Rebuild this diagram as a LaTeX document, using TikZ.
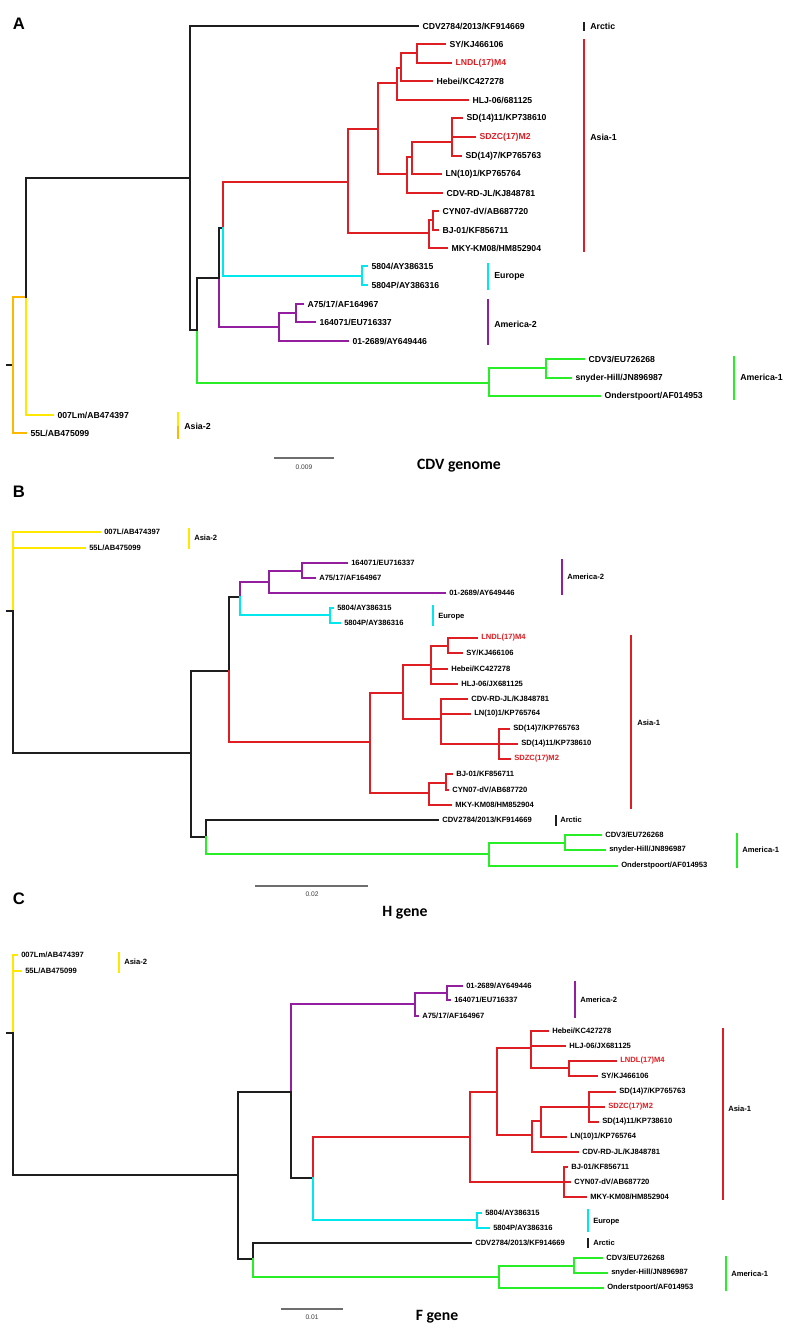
\documentclass[tikz,border=0pt]{standalone}
\usepackage{fontspec}
\setmainfont{Liberation Sans}
\newfontfamily\capfont{Carlito}
\definecolor{cred}{RGB}{222,30,35}
\definecolor{ccyan}{RGB}{0,232,238}
\definecolor{cpurp}{RGB}{148,30,160}
\definecolor{cgreen}{RGB}{40,238,40}
\definecolor{cyel}{RGB}{255,232,0}
\definecolor{corange}{RGB}{255,184,0}
\definecolor{cblack}{RGB}{30,30,30}
\definecolor{cgray}{RGB}{110,110,110}
\definecolor{cdgray}{RGB}{60,60,60}
\tikzset{
 lfA/.style={anchor=west,inner xsep=2.7pt,inner ysep=0pt,font=\bfseries\fontsize{6.5}{7}\selectfont,text=black},
 lfB/.style={anchor=west,inner xsep=2.7pt,inner ysep=0pt,font=\bfseries\fontsize{5.7}{6}\selectfont,text=black},
 grpA/.style={anchor=west,inner xsep=3pt,inner ysep=0pt,font=\bfseries\fontsize{6.6}{7}\selectfont},
 grpB/.style={anchor=west,inner xsep=3pt,inner ysep=0pt,font=\bfseries\fontsize{5.7}{6}\selectfont},
 panel/.style={font=\bfseries\fontsize{12.5}{13}\selectfont},
 capt/.style={font=\capfont\bfseries\fontsize{11.8}{12}\selectfont},
 sclab/.style={font=\fontsize{5}{6}\selectfont,text=cdgray},
 sbar/.style={draw=cgray,line width=1pt},
 wA/.style={line width=1.4pt,line cap=rect,line join=miter},
 wB/.style={line width=1.0pt,line cap=rect,line join=miter},
}
\newcommand\tbr[3]{\draw[#1] (#2) |- (#3);}
\begin{document}
\begin{tikzpicture}[x=0.75pt,y=-0.75pt]
\useasboundingbox (0,0) rectangle (801,1339);
\fill[white] (0,0) rectangle (801,1339);

%%%%%%%%%%%%%%%% PANEL A
\node[panel] (lA) at (19,24) {A};
\begin{scope}[wA]
\coordinate (A0t) at (7,365);
\coordinate (A0) at (13,365);
\coordinate (A1) at (26,297);
\coordinate (A2) at (190,178);
\coordinate (A3) at (197,330);
\coordinate (A4) at (219,278);
\coordinate (A5) at (223,228);
\coordinate (AR0) at (348,182);
\coordinate (AR1) at (378,129);
\coordinate (AR2) at (397,83);
\coordinate (AR3) at (401,68);
\coordinate (AR3b) at (417,53);
\coordinate (AR4) at (407,174);
\coordinate (AR5) at (412,157);
\coordinate (AR5b) at (452,142);
\coordinate (AR6) at (429,233);
\coordinate (AR7) at (433,220);
\coordinate (AE1) at (362,276);
\coordinate (AP1) at (279,327);
\coordinate (AP2) at (296,313);
\coordinate (AG1) at (489,383);
\coordinate (AG2) at (546,368);

\node[lfA] (aArc) at (418,26) {CDV2784/2013/KF914669};
\node[lfA] (aSY) at (445,44) {SY/KJ466106};
\node[lfA,text=cred] (aLN) at (451,63) {LNDL(17)M4};
\node[lfA] (aHeb) at (432,81) {Hebei/KC427278};
\node[lfA] (aHLJ) at (468,100) {HLJ-06/681125};
\node[lfA] (aSD11) at (462,118) {SD(14)11/KP738610};
\node[lfA,text=cred] (aSDZC) at (475,137) {SDZC(17)M2};
\node[lfA] (aSD7) at (461,156) {SD(14)7/KP765763};
\node[lfA] (aLN10) at (441,174) {LN(10)1/KP765764};
\node[lfA] (aRD) at (442,193) {CDV-RD-JL/KJ848781};
\node[lfA] (aCYN) at (438,211) {CYN07-dV/AB687720};
\node[lfA] (aBJ) at (438,230) {BJ-01/KF856711};
\node[lfA] (aMKY) at (447,248) {MKY-KM08/HM852904};
\node[lfA] (a5804) at (367,266) {5804/AY386315};
\node[lfA] (a5804P) at (367,285) {5804P/AY386316};
\node[lfA] (aA75) at (303,304) {A75/17/AF164967};
\node[lfA] (a1640) at (315,322) {164071/EU716337};
\node[lfA] (a0126) at (348,341) {01-2689/AY649446};
\node[lfA] (aCDV3) at (584,359) {CDV3/EU726268};
\node[lfA] (aSny) at (571,378) {snyder-Hill/JN896987};
\node[lfA] (aOnd) at (600,396) {Onderstpoort/AF014953};
\node[lfA] (a007) at (53,415) {007Lm/AB474397};
\node[lfA] (a55L) at (26,433) {55L/AB475099};

\draw[cblack] (A0t) -- (A0);
\tbr{corange}{A0}{A1}
\tbr{corange}{A0}{a55L.west}
\tbr{cyel}{A1}{a007.west}
\tbr{cblack}{A1}{A2}
\tbr{cblack}{A2}{aArc.west}
\tbr{cblack}{A2}{A3}
\tbr{cgreen}{A3}{AG1}
\tbr{cblack}{A3}{A4}
\tbr{cpurp}{A4}{AP1}
\tbr{cblack}{A4}{A5}
\tbr{cred}{A5}{AR0}
\tbr{ccyan}{A5}{AE1}
\tbr{cred}{AR0}{AR1}
\tbr{cred}{AR0}{AR6}
\tbr{cred}{AR1}{AR2}
\tbr{cred}{AR1}{AR4}
\tbr{cred}{AR2}{AR3}
\tbr{cred}{AR2}{aHLJ.west}
\tbr{cred}{AR3}{AR3b}
\tbr{cred}{AR3}{aHeb.west}
\tbr{cred}{AR3b}{aSY.west}
\tbr{cred}{AR3b}{aLN.west}
\tbr{cred}{AR4}{AR5}
\tbr{cred}{AR4}{aRD.west}
\tbr{cred}{AR5}{AR5b}
\tbr{cred}{AR5}{aLN10.west}
\tbr{cred}{AR5b}{aSD11.west}
\tbr{cred}{AR5b}{aSDZC.west}
\tbr{cred}{AR5b}{aSD7.west}
\tbr{cred}{AR6}{AR7}
\tbr{cred}{AR6}{aMKY.west}
\tbr{cred}{AR7}{aCYN.west}
\tbr{cred}{AR7}{aBJ.west}
\tbr{ccyan}{AE1}{a5804.west}
\tbr{ccyan}{AE1}{a5804P.west}
\tbr{cpurp}{AP1}{AP2}
\tbr{cpurp}{AP1}{a0126.west}
\tbr{cpurp}{AP2}{aA75.west}
\tbr{cpurp}{AP2}{a1640.west}
\tbr{cgreen}{AG1}{AG2}
\tbr{cgreen}{AG1}{aOnd.west}
\tbr{cgreen}{AG2}{aCDV3.west}
\tbr{cgreen}{AG2}{aSny.west}
\end{scope}
% group bars A
\draw[cblack,line width=2pt] (584,22) -- (584,31);
\node[grpA] (gA1) at (586,26) {Arctic};
\draw[cred,line width=1.4pt] (584,39) -- (584,252);
\node[grpA] (gA2) at (586,137) {Asia-1};
\draw[ccyan,line width=1.4pt] (488,263) -- (488,290);
\node[grpA] (gA3) at (490,276) {Europe};
\draw[cpurp,line width=1.4pt] (488,299) -- (488,345);
\node[grpA] (gA4) at (490,324) {America-2};
\draw[cgreen,line width=1.4pt] (734,356) -- (734,400);
\node[grpA] (gA5) at (736,377) {America-1};
\draw[cyel,line width=1.4pt] (178,412) -- (178,426);
\draw[corange,line width=1.4pt] (178,426) -- (178,439);
\node[grpA] (gA6) at (180,426) {Asia-2};
\coordinate (sA1) at (274,458);
\coordinate (sA2) at (334,458);
\draw[sbar] (sA1) -- (sA2);
\node[sclab] (sAl) at (304,467) {0.009};
\node[capt] (cA) at (459,466) {CDV genome};

%%%%%%%%%%%%%%%% PANEL B
\node[panel] (lB) at (19,492) {B};
\begin{scope}[wB]
\coordinate (B0t) at (7,611);
\coordinate (B0) at (13,611);
\coordinate (B1) at (191,753);
\coordinate (B2) at (229,671);
\coordinate (B3) at (206,837);
\coordinate (B4) at (240,597);
\coordinate (BP1) at (269,582);
\coordinate (BP2) at (302,571);
\coordinate (BE1) at (330,615);
\coordinate (BR0) at (370,742);
\coordinate (BR1) at (403,693);
\coordinate (BR2) at (431,665);
\coordinate (BR2b) at (448,646);
\coordinate (BR3) at (441,719);
\coordinate (BR4) at (499,744);
\coordinate (BR5) at (429,793);
\coordinate (BR6) at (446,783);
\coordinate (BG1) at (489,854);
\coordinate (BG2) at (565,843);

\node[lfB] (b007) at (100,532) {007L/AB474397};
\node[lfB] (b55L) at (85,548) {55L/AB475099};
\node[lfB] (b1640) at (347,563) {164071/EU716337};
\node[lfB] (bA75) at (315,578) {A75/17/AF164967};
\node[lfB] (b0126) at (445,593) {01-2689/AY649446};
\node[lfB] (b5804) at (333,608) {5804/AY386315};
\node[lfB] (b5804P) at (340,623) {5804P/AY386316};
\node[lfB,text=cred] (bLN) at (477,638) {LNDL(17)M4};
\node[lfB] (bSY) at (462,653) {SY/KJ466106};
\node[lfB] (bHeb) at (447,669) {Hebei/KC427278};
\node[lfB] (bHLJ) at (457,684) {HLJ-06/JX681125};
\node[lfB] (bRD) at (467,699) {CDV-RD-JL/KJ848781};
\node[lfB] (bLN10) at (470,714) {LN(10)1/KP765764};
\node[lfB] (bSD7) at (509,729) {SD(14)7/KP765763};
\node[lfB] (bSD11) at (517,744) {SD(14)11/KP738610};
\node[lfB,text=cred] (bSDZC) at (510,759) {SDZC(17)M2};
\node[lfB] (bBJ) at (452,774) {BJ-01/KF856711};
\node[lfB] (bCYN) at (448,790) {CYN07-dV/AB687720};
\node[lfB] (bMKY) at (451,805) {MKY-KM08/HM852904};
\node[lfB] (bArc) at (438,820) {CDV2784/2013/KF914669};
\node[lfB] (bCDV3) at (601,835) {CDV3/EU726268};
\node[lfB] (bSny) at (605,850) {snyder-Hill/JN896987};
\node[lfB] (bOnd) at (617,866) {Onderstpoort/AF014953};

\draw[cblack] (B0t) -- (B0);
\tbr{cyel}{B0}{b007.west}
\tbr{cyel}{B0}{b55L.west}
\tbr{cblack}{B0}{B1}
\tbr{cblack}{B1}{B2}
\tbr{cblack}{B1}{B3}
\tbr{cblack}{B2}{B4}
\tbr{cred}{B2}{BR0}
\tbr{cpurp}{B4}{BP1}
\tbr{ccyan}{B4}{BE1}
\tbr{cpurp}{BP1}{BP2}
\tbr{cpurp}{BP1}{b0126.west}
\tbr{cpurp}{BP2}{b1640.west}
\tbr{cpurp}{BP2}{bA75.west}
\tbr{ccyan}{BE1}{b5804.west}
\tbr{ccyan}{BE1}{b5804P.west}
\tbr{cred}{BR0}{BR1}
\tbr{cred}{BR0}{BR5}
\tbr{cred}{BR1}{BR2}
\tbr{cred}{BR1}{BR3}
\tbr{cred}{BR2}{BR2b}
\tbr{cred}{BR2}{bHeb.west}
\tbr{cred}{BR2}{bHLJ.west}
\tbr{cred}{BR2b}{bLN.west}
\tbr{cred}{BR2b}{bSY.west}
\tbr{cred}{BR3}{bRD.west}
\tbr{cred}{BR3}{bLN10.west}
\tbr{cred}{BR3}{BR4}
\tbr{cred}{BR4}{bSD7.west}
\tbr{cred}{BR4}{bSD11.west}
\tbr{cred}{BR4}{bSDZC.west}
\tbr{cred}{BR5}{BR6}
\tbr{cred}{BR5}{bMKY.west}
\tbr{cred}{BR6}{bBJ.west}
\tbr{cred}{BR6}{bCYN.west}
\tbr{cblack}{B3}{bArc.west}
\tbr{cgreen}{B3}{BG1}
\tbr{cgreen}{BG1}{BG2}
\tbr{cgreen}{BG1}{bOnd.west}
\tbr{cgreen}{BG2}{bCDV3.west}
\tbr{cgreen}{BG2}{bSny.west}
\end{scope}
\draw[cyel,line width=1.2pt] (189,528) -- (189,549);
\node[grpB] (gB6) at (190,538) {Asia-2};
\draw[cpurp,line width=1.2pt] (562,559) -- (562,595);
\node[grpB] (gB4) at (563,577) {America-2};
\draw[ccyan,line width=1.2pt] (433,605) -- (433,626);
\node[grpB] (gB3) at (434,617) {Europe};
\draw[cred,line width=1.2pt] (631,635) -- (631,809);
\node[grpB] (gB2) at (633,723) {Asia-1};
\draw[cblack,line width=1.8pt] (556,815) -- (556,826);
\node[grpB] (gB1) at (556,820) {Arctic};
\draw[cgreen,line width=1.2pt] (737,833) -- (737,868);
\node[grpB] (gB5) at (738,850) {America-1};
\coordinate (sB1) at (255,886);
\coordinate (sB2) at (368,886);
\draw[sbar] (sB1) -- (sB2);
\node[sclab] (sBl) at (312,894) {0.02};
\node[capt] (cB) at (405,913) {H gene};

%%%%%%%%%%%%%%%% PANEL C
\node[panel] (lC) at (19,899) {C};
\begin{scope}[wB]
\coordinate (C0t) at (7,1033);
\coordinate (C0) at (13,1033);
\coordinate (C1) at (238,1175);
\coordinate (C2) at (291,1092);
\coordinate (C3) at (253,1259);
\coordinate (C4) at (313,1178);
\coordinate (CP1) at (415,1004);
\coordinate (CP2) at (447,993);
\coordinate (CR0) at (470,1137);
\coordinate (CR1) at (497,1092);
\coordinate (CR2) at (531,1048);
\coordinate (CR2b) at (569,1068);
\coordinate (CR3) at (532,1135);
\coordinate (CR4) at (541,1121);
\coordinate (CR4b) at (589,1107);
\coordinate (CR5) at (564,1182);
\coordinate (CE1) at (477,1220);
\coordinate (CG1) at (499,1277);
\coordinate (CG2) at (574,1266);

\node[lfB] (c007) at (17,955) {007Lm/AB474397};
\node[lfB] (c55L) at (21,971) {55L/AB475099};
\node[lfB] (c0126) at (462,986) {01-2689/AY649446};
\node[lfB] (c1640) at (450,1000) {164071/EU716337};
\node[lfB] (cA75) at (418,1016) {A75/17/AF164967};
\node[lfB] (cHeb) at (548,1031) {Hebei/KC427278};
\node[lfB] (cHLJ) at (565,1046) {HLJ-06/JX681125};
\node[lfB,text=cred] (cLN) at (616,1061) {LNDL(17)M4};
\node[lfB] (cSY) at (597,1076) {SY/KJ466106};
\node[lfB] (cSD7) at (615,1092) {SD(14)7/KP765763};
\node[lfB,text=cred] (cSDZC) at (604,1107) {SDZC(17)M2};
\node[lfB] (cSD11) at (598,1122) {SD(14)11/KP738610};
\node[lfB] (cLN10) at (566,1137) {LN(10)1/KP765764};
\node[lfB] (cRD) at (578,1152) {CDV-RD-JL/KJ848781};
\node[lfB] (cBJ) at (567,1167) {BJ-01/KF856711};
\node[lfB] (cCYN) at (570,1182) {CYN07-dV/AB687720};
\node[lfB] (cMKY) at (586,1197) {MKY-KM08/HM852904};
\node[lfB] (c5804) at (481,1213) {5804/AY386315};
\node[lfB] (c5804P) at (489,1228) {5804P/AY386316};
\node[lfB] (cArc) at (471,1243) {CDV2784/2013/KF914669};
\node[lfB] (cCDV3) at (602,1258) {CDV3/EU726268};
\node[lfB] (cSny) at (607,1273) {snyder-Hill/JN896987};
\node[lfB] (cOnd) at (603,1288) {Onderstpoort/AF014953};

\draw[cblack] (C0t) -- (C0);
\tbr{cyel}{C0}{c007.west}
\tbr{cyel}{C0}{c55L.west}
\tbr{cblack}{C0}{C1}
\tbr{cblack}{C1}{C2}
\tbr{cblack}{C1}{C3}
\tbr{cpurp}{C2}{CP1}
\tbr{cblack}{C2}{C4}
\tbr{cpurp}{CP1}{CP2}
\tbr{cpurp}{CP1}{cA75.west}
\tbr{cpurp}{CP2}{c0126.west}
\tbr{cpurp}{CP2}{c1640.west}
\tbr{cred}{C4}{CR0}
\tbr{ccyan}{C4}{CE1}
\tbr{cred}{CR0}{CR1}
\tbr{cred}{CR0}{CR5}
\tbr{cred}{CR1}{CR2}
\tbr{cred}{CR1}{CR3}
\tbr{cred}{CR2}{cHeb.west}
\tbr{cred}{CR2}{cHLJ.west}
\tbr{cred}{CR2}{CR2b}
\tbr{cred}{CR2b}{cLN.west}
\tbr{cred}{CR2b}{cSY.west}
\tbr{cred}{CR3}{CR4}
\tbr{cred}{CR3}{cRD.west}
\tbr{cred}{CR4}{CR4b}
\tbr{cred}{CR4}{cLN10.west}
\tbr{cred}{CR4b}{cSD7.west}
\tbr{cred}{CR4b}{cSDZC.west}
\tbr{cred}{CR4b}{cSD11.west}
\tbr{cred}{CR5}{cBJ.west}
\tbr{cred}{CR5}{cCYN.west}
\tbr{cred}{CR5}{cMKY.west}
\tbr{ccyan}{CE1}{c5804.west}
\tbr{ccyan}{CE1}{c5804P.west}
\tbr{cblack}{C3}{cArc.west}
\tbr{cgreen}{C3}{CG1}
\tbr{cgreen}{CG1}{CG2}
\tbr{cgreen}{CG1}{cOnd.west}
\tbr{cgreen}{CG2}{cCDV3.west}
\tbr{cgreen}{CG2}{cSny.west}
\end{scope}
\draw[cyel,line width=1.2pt] (119,952) -- (119,973);
\node[grpB] (gC6) at (120,962) {Asia-2};
\draw[cpurp,line width=1.2pt] (575,981) -- (575,1018);
\node[grpB] (gC4) at (576,1000) {America-2};
\draw[cred,line width=1.2pt] (723,1028) -- (723,1200);
\node[grpB] (gC2) at (724,1109) {Asia-1};
\draw[ccyan,line width=1.2pt] (588,1209) -- (588,1232);
\node[grpB] (gC3) at (589,1222) {Europe};
\draw[cblack,line width=1.8pt] (588,1238) -- (588,1248);
\node[grpB] (gC1) at (589,1243) {Arctic};
\draw[cgreen,line width=1.2pt] (726,1256) -- (726,1291);
\node[grpB] (gC5) at (727,1274) {America-1};
\coordinate (sC1) at (281,1309);
\coordinate (sC2) at (343,1309);
\draw[sbar] (sC1) -- (sC2);
\node[sclab] (sCl) at (312,1317) {0.01};
\node[capt] (cC) at (437,1317) {F gene};
\end{tikzpicture}
\end{document}
